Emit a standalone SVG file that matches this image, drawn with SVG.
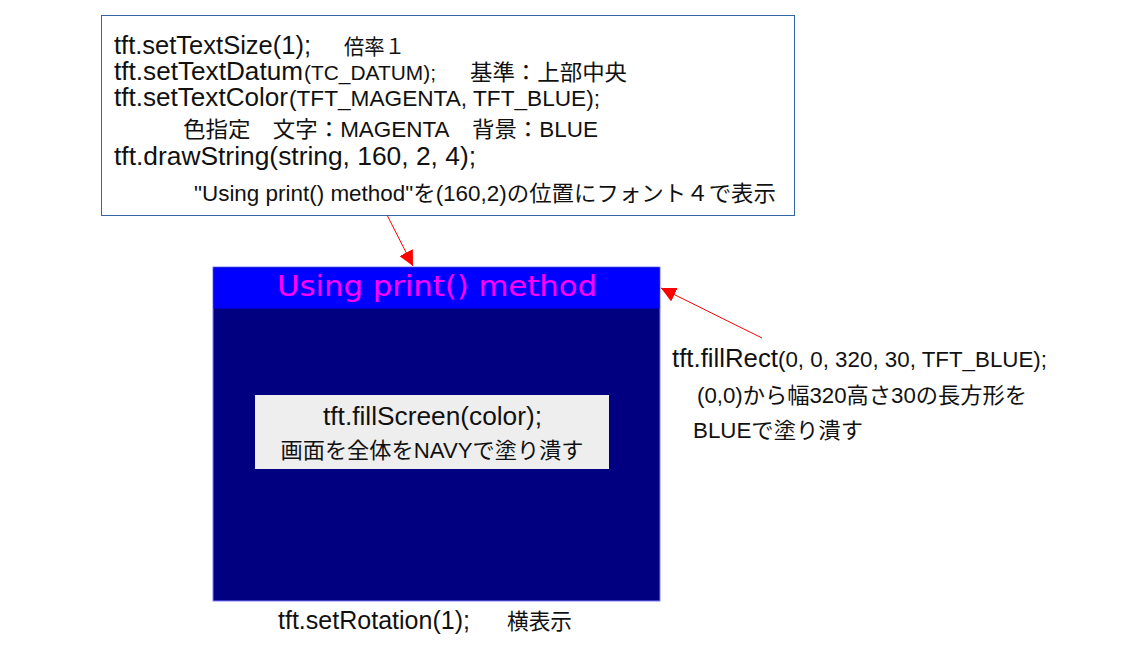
<svg xmlns="http://www.w3.org/2000/svg" width="1123" height="649" viewBox="0 0 1123 649">
<defs>
<style>
.l{font-family:"Liberation Sans","Noto Sans CJK JP",sans-serif;fill:#111;}
.j{font-family:"Noto Sans CJK JP","Liberation Sans",sans-serif;fill:#111;}
.big{font-size:25px;}
.mid{font-size:21px;}
</style>
<marker id="ah" viewBox="0 0 10 10" refX="10" refY="5" markerWidth="15" markerHeight="15" markerUnits="userSpaceOnUse" orient="auto">
<path d="M0,0 L10,5 L0,10 Z" fill="#ff0000"/>
</marker>
</defs>
<rect width="1123" height="649" fill="#ffffff"/>
<g id="screen">
<rect x="213" y="267" width="447" height="334" fill="#000080" stroke="#8080ff" stroke-width="1"/>
<rect x="213.5" y="267.5" width="446" height="41" fill="#0000ff"/>
<text x="437" y="296" text-anchor="middle" font-family="DejaVu Sans,sans-serif" font-size="29" fill="#ff00ff" textLength="320" lengthAdjust="spacingAndGlyphs">Using print() method</text>
</g>
<g id="codebox">
<rect x="101.5" y="15.5" width="693" height="200" fill="#ffffff" stroke="#3465a4" stroke-width="1"/>
<text class="l big" x="114" y="54" textLength="197" lengthAdjust="spacingAndGlyphs">tft.setTextSize(1);</text>
<text class="j" font-size="21" x="344" y="54" textLength="61" lengthAdjust="spacingAndGlyphs">倍率１</text>
<text class="l big" x="114" y="80" textLength="189" lengthAdjust="spacingAndGlyphs">tft.setTextDatum</text>
<text class="l mid" x="304" y="80" textLength="132" lengthAdjust="spacingAndGlyphs">(TC_DATUM);</text>
<text class="j" font-size="22" x="470" y="80" textLength="157" lengthAdjust="spacingAndGlyphs">基準：上部中央</text>
<text class="l big" x="114" y="106" textLength="174" lengthAdjust="spacingAndGlyphs">tft.setTextColor</text>
<text class="l" font-size="22" x="289" y="106" textLength="311" lengthAdjust="spacingAndGlyphs">(TFT_MAGENTA, TFT_BLUE);</text>
<text class="j" font-size="22" x="183" y="137" textLength="415" lengthAdjust="spacingAndGlyphs">色指定　文字：<tspan class="l">MAGENTA</tspan>　背景：<tspan class="l">BLUE</tspan></text>
<text class="l big" x="114" y="165" textLength="362" lengthAdjust="spacingAndGlyphs">tft.drawString(string, 160, 2, 4);</text>
<text class="l" font-size="22" x="194" y="201" textLength="582" lengthAdjust="spacingAndGlyphs">"Using print() method"<tspan class="j">を</tspan>(160,2)<tspan class="j">の位置にフォント４で表示</tspan></text>
</g>
<g id="fillscreen">
<rect x="255" y="395" width="354" height="74" fill="#eeeeee"/>
<text class="l" font-size="25" x="432.5" y="425" text-anchor="middle" textLength="219" lengthAdjust="spacingAndGlyphs">tft.fillScreen(color);</text>
<text class="j" font-size="22" x="432" y="458" text-anchor="middle" textLength="303" lengthAdjust="spacingAndGlyphs">画面を全体を<tspan class="l">NAVY</tspan>で塗り潰す</text>
</g>
<g id="fillrect">
<text class="l big" x="672" y="367" textLength="106" lengthAdjust="spacingAndGlyphs">tft.fillRect</text>
<text class="l" font-size="22" x="778" y="367" textLength="269" lengthAdjust="spacingAndGlyphs">(0, 0, 320, 30, TFT_BLUE);</text>
<text class="l" font-size="22" x="697" y="403" textLength="330" lengthAdjust="spacingAndGlyphs">(0,0)<tspan class="j">から幅</tspan>320<tspan class="j">高さ</tspan>30<tspan class="j">の長方形を</tspan></text>
<text class="l" font-size="22" x="693" y="438" textLength="170" lengthAdjust="spacingAndGlyphs">BLUE<tspan class="j">で塗り潰す</tspan></text>
</g>
<g id="rotation">
<text class="l big" x="278" y="629" textLength="192" lengthAdjust="spacingAndGlyphs">tft.setRotation(1);</text>
<text class="j" font-size="22" x="507" y="629" textLength="65" lengthAdjust="spacingAndGlyphs">横表示</text>
</g>
<g id="connectors" stroke="#ff0000" stroke-width="1" fill="none">
<line x1="387" y1="215" x2="413" y2="266" marker-end="url(#ah)"/>
<line x1="762" y1="338" x2="661" y2="288" marker-end="url(#ah)"/>
</g>
</svg>
